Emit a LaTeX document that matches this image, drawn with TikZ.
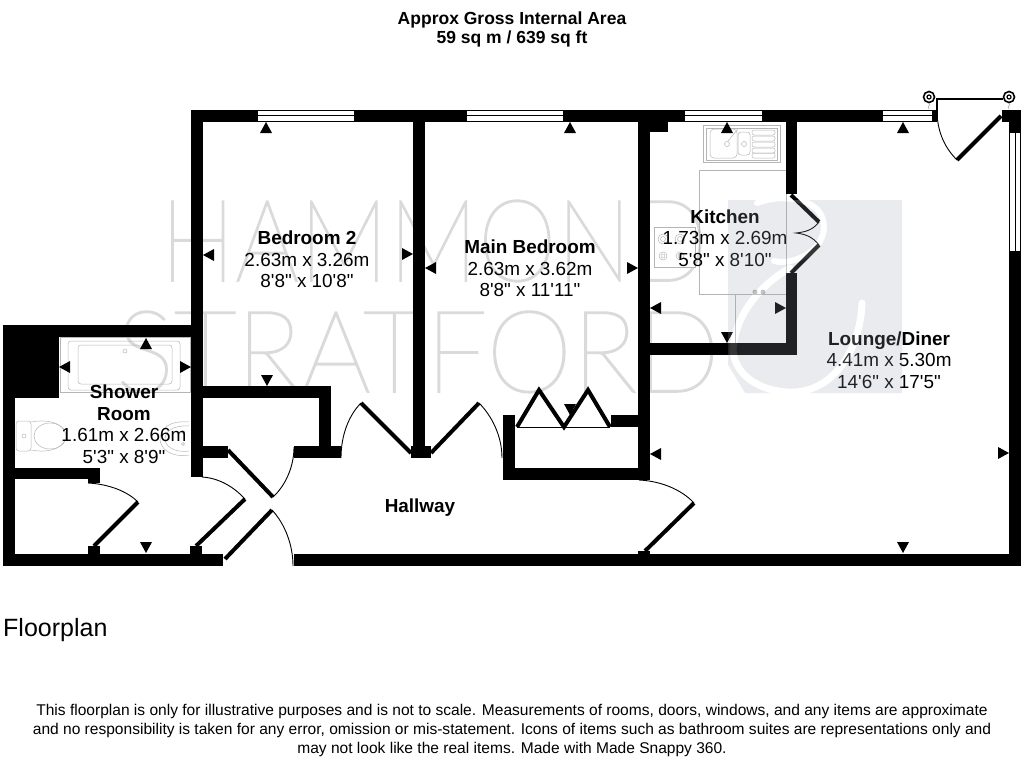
\documentclass[tikz,border=0pt]{standalone}
\usepackage{fontspec}
\setmainfont{Liberation Sans}
\newfontfamily\labelfont{Liberation Sans}
\newfontfamily\wmfont[FakeBold=1.5]{Lato Hairline}
\definecolor{markgrey}{HTML}{DADADA}
\definecolor{logoblue}{HTML}{98A0AE}
\definecolor{fixgrey}{HTML}{B5B5B5}
\tikzset{
	wall/.style={fill=black},
	leaf/.style={line width=4pt},
	swing/.style={line width=0.9pt},
	fixture/.style={draw=fixgrey,line width=0.5pt},
	pane/.style={line width=0.8pt},
	room/.style={align=center,inner sep=0pt,font=\labelfont\fontsize{18.9}{21.5}\selectfont},
	swirl/.style={draw=white,line cap=round}
}
\begin{document}
\begin{tikzpicture}[x=1pt,y=-1pt]
	\useasboundingbox (0,0) rectangle (1024,768);
	% watermark
	\node[anchor=west,inner sep=0pt,text=markgrey] (hammond) at (160,241) {\scalebox{0.88}[1]{\fontsize{114}{114}\selectfont\wmfont HAMMOND}};
	\node[anchor=west,inner sep=0pt,text=markgrey] (stratford) at (116,352) {\scalebox{0.96}[1]{\fontsize{114}{114}\selectfont\wmfont STRATFORD}};
	% bath
	\draw[fixture] (60,337) rectangle (190,392);
	\draw[fixture,rounded corners=3pt] (68,341) rectangle (180,390);
	\draw[fixture,rounded corners=3pt] (78,345) rectangle (172,384);
	\draw[fixture] (125,351) circle (2);
	% toilet
	\draw[fixture,rounded corners=3pt] (16,421) rectangle (31,451);
	\draw[fixture] (24,436) circle (2);
	\draw[fixture] (31,422) .. controls (52,418) and (66,426) .. (66,436) .. controls (66,446) and (52,454) .. (31,450);
	\draw[fixture] (50,436) ellipse (16 and 13);
	% basin
	\draw[fixture] (189,422) .. controls (168,420) and (160,430) .. (160,439) .. controls (160,448) and (170,458) .. (189,455);
	\draw[fixture] (189,426) .. controls (172,425) and (165,432) .. (165,439) .. controls (165,446) and (174,453) .. (189,451);
	\draw[fixture] (183,432) circle (1.5);
	\draw[fixture] (183,444) circle (1.5);
	% sink
	\draw[fixture] (703,125) rectangle (780,162);
	\draw[fixture] (706,128) rectangle (777,160);
	\draw[fixture,rounded corners=4pt] (710,129) rectangle (737,158);
	\draw[fixture,rounded corners=3pt] (738,132) rectangle (750,155);
	\draw[fixture] (727,144) circle (2.5);
	\draw[fixture] (744,144) circle (2.5);
	\draw[fixture] (728,141) -- (738,129);
	\foreach \y in {130,136,142,148,153} \draw[fixture,rounded corners=2pt] (752,\y) rectangle (775,\y+5);
	% worktops
	\draw[fixture] (699,170) rectangle (786,294);
	\draw[fixture] (735,294) rectangle (786,343);
	\fill[fixgrey] (755,292) circle (2.5);
	\fill[fixgrey] (763,292) circle (2.5);
	% hob
	\draw[fixture,fill=white] (654,227) rectangle (695,267);
	\foreach \x in {663,680} {
		\draw[fixture] (\x,239) circle (5);
		\draw[fixture] (\x,239) circle (2.5);
		\draw[fixture] (\x,256) circle (4);
		\draw[fixture] (\x,256) circle (2);
	}
	% walls
	\foreach \xa/\ya/\xb/\yb in {191/110/1021/122,191/110/203/477,413/110/425/458,411/446/431/458,
		638/110/650/480,650/122/668/132,786/110/797/194,786/273/797/355,650/343/797/355,
		1009/110/1021/566,294/554/1021/566,3/325/15/566,3/325/191/337,3/325/59/398,
		15/468/100/479,88/468/100/483,3/554/223/566,88/546/100/554,190/546/202/554,
		202/386/331/398,319/386/331/458,294/446/341/458,202/446/228/458,
		503/415/515/480,503/468/650/480,611/415/639/427,638/551/650/554}
		\fill[wall] (\xa,\ya) rectangle (\xb,\yb);
	% opening for the terrace door
	\fill[white] (937,100) rectangle (1002,122);
	% windows
	\foreach \xa/\xb in {258/354,467/563,685/762,883/932} {
		\fill[white] (\xa,110) rectangle (\xb,122);
		\draw[pane] (\xa,110.5) -- (\xb,110.5);
		\draw[pane] (\xa,115.5) -- (\xb,115.5);
		\draw[pane] (\xa,121.5) -- (\xb,121.5);
	}
	\fill[white] (1009,133) rectangle (1021,251);
	\draw[pane] (1009.5,133) -- (1009.5,251);
	\draw[pane] (1015,133) -- (1015,251);
	\draw[pane] (1020.5,133) -- (1020.5,251);
	% size markers
	\foreach \x/\y in {266/122,570/122,727/122,903/122,146/338} \fill (\x,\y) -- ++(-6,11) -- ++(12,0) -- cycle;
	\foreach \x/\y in {267/386,146/553,903/553,727/343,570/415} \fill (\x,\y) -- ++(-6,-11) -- ++(12,0) -- cycle;
	\foreach \x/\y in {203/255,425/268,650/308,650/454,59/367} \fill (\x,\y) -- ++(11,-6) -- ++(0,12) -- cycle;
	\foreach \x/\y in {413/254,638/268,786/308,1009/453,191/367} \fill (\x,\y) -- ++(-11,-6) -- ++(0,12) -- cycle;
	% doors
	\draw[leaf] (94,546) -- (138,502);
	\draw[swing] (88,483) .. controls (108,484) and (127,491) .. (138,502);
	\draw[leaf] (196,546) -- (245,499);
	\draw[swing] (202,477) .. controls (219,478) and (234,487) .. (245,499);
	\draw[leaf] (225,559) -- (272,510);
	\draw[swing] (272,510) .. controls (285,524) and (293,545) .. (293,566);
	\draw[leaf] (228,450) -- (273,497);
	\draw[swing] (273,497) .. controls (286,485) and (294,466) .. (294,447);
	\draw[leaf] (411,453) -- (361,403);
	\draw[swing] (361,403) .. controls (349,415) and (341,435) .. (341,458);
	\draw[leaf] (431,453) -- (479,403);
	\draw[swing] (479,403) .. controls (491,415) and (502,435) .. (502,458);
	\draw[leaf] (645,551) -- (694,503);
	\draw[swing] (639,480) .. controls (660,481) and (681,489) .. (694,503);
	\draw[leaf,line join=miter] (517,427) -- (539,390) -- (564,427) -- (588,390) -- (610,427);
	\draw[swing] (517,427) -- (610,427);
	\draw[leaf] (791,195) -- (819,222);
	\draw[leaf] (791,273) -- (819,245);
	\draw[swing] (819,222) .. controls (812,231) and (804,232) .. (796,233) .. controls (804,234) and (812,236) .. (819,245);
	% terrace door
	\draw[leaf] (1001,116) -- (957,160);
	\draw[swing] (937,114) .. controls (938,133) and (945,148) .. (957,160);
	\draw[line width=2.5pt] (936,99) -- (1003,99);
	\draw[line width=1.6pt] (937,99) -- (937,118);
	\foreach \x in {929,1009} {
		\draw[line width=1.6pt] (\x,97) circle (5.5);
		\draw[line width=1.2pt] (\x,97) circle (2);
		\draw[line width=0.8pt,fixgrey] (\x,103) .. controls (\x+3,105) and (\x-3,106) .. (\x,109);
	}
	% labels
	\node[font=\bfseries\fontsize{17.5}{19}\selectfont,align=center,inner sep=0pt] (area) at (512,29.5) {Approx Gross Internal Area\\59 sq m / 639 sq ft};
	\node[room] (bedtwo) at (307,259.5) {\textbf{Bedroom 2}\\2.63m x 3.26m\\8'8" x 10'8"};
	\node[room] (bedmain) at (530,268.5) {\textbf{Main Bedroom}\\2.63m x 3.62m\\8'8" x 11'11"};
	\node[room] (kitchen) at (725,238) {\textbf{Kitchen}\\1.73m x 2.69m\\5'8" x 8'10"};
	\node[room] (lounge) at (889,360) {\textbf{Lounge/Diner}\\4.41m x 5.30m\\14'6" x 17'5"};
	\node[room] (shower) at (124,424) {\textbf{Shower}\\\textbf{Room}\\1.61m x 2.66m\\5'3" x 8'9"};
	\node[room] (hallway) at (420,508) {\textbf{Hallway}};
	\node[anchor=west,inner sep=0pt,font=\fontsize{25}{25}\selectfont] (floorplan) at (3,630) {Floorplan};
	\node[align=center,inner sep=0pt,font=\fontsize{15.55}{19}\selectfont] (notice) at (512,730) {This floorplan is only for illustrative purposes and is not to scale. Measurements of rooms, doors, windows, and any items are approximate\\and no responsibility is taken for any error, omission or mis-statement. Icons of items such as bathroom suites are representations only and\\may not look like the real items. Made with Made Snappy 360.};
	% logo over the plan
	\begin{scope}[transparency group,opacity=0.21]
		\clip (728,200) rectangle (902,393);
		\fill[logoblue] (728,200) rectangle (902,393);
		\draw[swirl,line width=6pt] (757,203) .. controls (780,194) and (810,198) .. (820,213) .. controls (830,230) and (820,250) .. (800,258) .. controls (790,262) and (782,263) .. (774,261);
		\draw[swirl,line width=7pt] (790,268) .. controls (760,285) and (735,315) .. (733,350) .. controls (735,378) and (765,394) .. (797,392) .. controls (835,388) and (860,350) .. (862,303);
		\fill[white] (728,365) -- (745,393) -- (728,393) -- cycle;
	\end{scope}
\end{tikzpicture}
\end{document}
